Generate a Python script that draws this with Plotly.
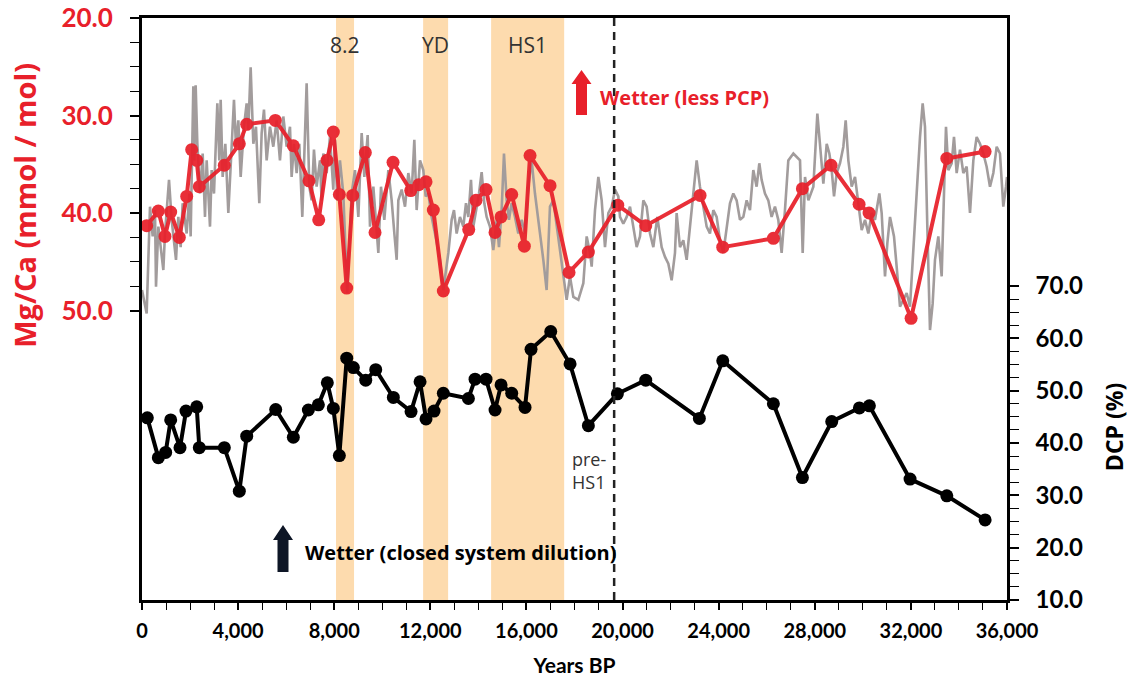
import plotly.graph_objects as go

# ---- Mg/Ca low-resolution record (red) ----
mg_years = [195, 680, 957, 1194, 1553, 1860, 2068, 2277, 2385, 3426, 4050, 4358, 5549,
            6298, 6951, 7355, 7700, 7963, 8213, 8520, 8770, 9295, 9698, 10447, 11184,
            11517, 11821, 12125, 12541, 13598, 13902, 14318, 14693, 14943, 15387, 15912,
            16150, 16982, 17773, 18577, 19800, 20965, 23226, 24170, 26277, 27485, 28678,
            29844, 30260, 32008, 33495, 35089]
mg_ca = [41.3, 39.8, 42.4, 39.9, 42.5, 38.3, 33.5, 34.6, 37.3, 35.1, 32.9, 30.9, 30.5,
         33.1, 36.7, 40.7, 34.6, 31.7, 38.1, 47.7, 38.2, 33.8, 42.0, 34.8, 37.7,
         37.1, 36.8, 39.7, 48.0, 41.7, 38.7, 37.6, 42.0, 40.4, 38.1, 43.4,
         34.1, 37.2, 46.1, 44.0, 39.2, 41.3, 38.2, 43.5, 42.6, 37.5, 35.1,
         39.1, 40.0, 50.8, 34.4, 33.7]

# ---- Mg/Ca high-resolution record (grey) ----
hr_years = [0, 194, 333, 444, 541, 583, 680, 777, 888, 957, 1027, 1124, 1235, 1415, 1512,
            1609, 1692, 1859, 1970, 2025, 2136, 2178, 2233, 2303, 2414, 2525, 2622, 2691,
            2830, 2899, 2996, 3135, 3218, 3274, 3357, 3468, 3593, 3731, 3828, 3912, 4009,
            4106, 4244, 4355, 4425, 4522, 4633, 4744, 4882, 4980, 5077, 5188, 5326, 5465,
            5604, 5742, 5881, 6020, 6159, 6228, 6325, 6436, 6547, 6672, 6755, 6852, 6963,
            7060, 7157, 7268, 7407, 7476, 7546, 7684, 7823, 7962, 8031, 8128, 8239, 8378,
            8544, 8725, 8863, 9004, 9142, 9253, 9392, 9489, 9628, 9725, 9836, 9947, 10086,
            10252, 10391, 10502, 10599, 10668, 10807, 10946, 11084, 11223, 11334, 11431,
            11570, 11708, 11805, 11916, 12055, 12194, 12402, 12541, 12749, 12887, 12984,
            13095, 13234, 13373, 13484, 13581, 13692, 13789, 13928, 14025, 14136, 14247,
            14344, 14482, 14621, 14760, 14857, 14968, 15065, 15176, 15273, 15384, 15523,
            15661, 15800, 15939, 16078, 16216, 16355, 16466, 16563, 16702, 16840, 16979,
            17118, 17257, 17396, 17534, 17673, 17812, 17952, 18160, 18368, 18507, 18645,
            18715, 18853, 18992, 19131, 19269, 19408, 19547, 19685, 19824, 19894, 20032,
            20171, 20310, 20448, 20587, 20726, 20865, 21003, 21142, 21281, 21447, 21627,
            21766, 21905, 22043, 22182, 22251, 22390, 22529, 22668, 22806, 22973, 23084,
            23222, 23361, 23500, 23638, 23777, 23916, 24055, 24193, 24332, 24471, 24609,
            24748, 24887, 25026, 25164, 25303, 25442, 25580, 25691, 25788, 25927, 26066,
            26204, 26343, 26482, 26621, 26759, 26898, 27109, 27247, 27386, 27497, 27594,
            27733, 27830, 27941, 28107, 28218, 28357, 28496, 28607, 28704, 28801, 28912,
            29051, 29189, 29286, 29397, 29536, 29675, 29813, 29952, 30091, 30229, 30368,
            30507, 30687, 30784, 30923, 31020, 31131, 31297, 31408, 31547, 31686, 31825,
            31963, 32102, 32241, 32379, 32490, 32587, 32684, 32795, 32906, 33003, 33142,
            33281, 33378, 33461, 33558, 33697, 33794, 33905, 34044, 34182, 34321, 34460,
            34599, 34737, 34876, 35015, 35153, 35292, 35431, 35570, 35708, 35847, 35958,
            36000]
hr_mg_ca = [47.9, 50.3, 39.35, 42.4, 39.7, 47.56, 41.4, 43.5, 45.85, 42.1, 39.7, 36.6, 40.7,
            44.8, 40.4, 43.5, 39.0, 42.1, 38.0, 42.4, 27.0, 34.6, 26.9, 32.9, 38.0, 33.9,
            40.4, 34.6, 41.4, 35.6, 38.0, 28.75, 34.6, 28.4, 36.3, 32.9, 40.0, 32.5, 28.4,
            33.2, 30.5, 36.3, 31.15, 28.75, 31.5, 25.06, 32.9, 31.15, 39.0, 31.8, 29.4,
            34.6, 31.15, 33.2, 30.5, 34.6, 30.1, 33.2, 31.15, 36.3, 32.9, 35.9, 32.9, 40.4,
            33.9, 26.7, 37.3, 38.7, 33.5, 37.3, 34.6, 38.7, 33.9, 35.9, 32.2, 37.6, 32.5,
            38.7, 34.6, 38.0, 48.2, 38.0, 35.6, 40.4, 31.8, 36.3, 32.0, 41.4, 37.3, 40.7,
            44.1, 37.3, 40.7, 35.6, 38.7, 42.1, 44.8, 38.7, 37.6, 39.35, 35.9, 38.0, 32.5,
            39.7, 34.6, 35.6, 38.3, 38.0, 40.4, 42.1, 44.8, 47.9, 44.1, 40.7, 39.7, 42.1,
            40.4, 41.4, 39.0, 40.4, 36.6, 41.4, 39.35, 38.0, 35.8, 39.0, 40.4, 41.4, 43.8,
            40.7, 43.5, 39.7, 33.9, 38.7, 40.7, 39.0, 40.4, 42.1, 40.7, 42.1, 37.3, 34.6,
            38.0, 40.0, 42.1, 44.8, 47.9, 39.35, 38.7, 41.4, 43.5, 46.2, 48.9, 46.5, 48.6,
            48.9, 47.2, 42.4, 44.1, 45.5, 39.7, 36.3, 38.7, 43.5, 40.0, 39.35, 37.6, 38.3,
            40.4, 41.1, 40.4, 39.35, 41.4, 43.5, 42.4, 38.7, 39.35, 42.1, 43.5, 40.4, 43.5,
            44.5, 45.2, 46.9, 44.1, 40.0, 43.5, 42.8, 44.8, 41.4, 37.3, 34.6, 37.3, 39.35,
            41.4, 42.1, 39.7, 40.4, 42.8, 44.1, 41.4, 39.0, 38.0, 38.7, 40.7, 40.4, 38.7,
            39.7, 35.6, 37.3, 34.9, 36.6, 38.0, 38.7, 40.4, 39.35, 40.7, 44.1, 39.7, 34.6,
            33.9, 34.2, 34.6, 44.1, 36.3, 38.7, 38.0, 37.3, 29.8, 32.9, 37.0, 32.9, 33.9,
            35.6, 38.3, 35.9, 34.9, 33.2, 30.5, 34.6, 37.3, 36.3, 39.0, 41.75, 40.7, 42.1,
            40.0, 40.7, 38.0, 40.0, 46.5, 43.1, 40.4, 42.4, 45.5, 49.6, 48.9, 48.2, 49.6,
            43.5, 37.3, 32.2, 28.75, 31.15, 41.4, 52.0, 49.3, 44.8, 42.4, 46.5, 38.0, 31.15,
            35.6, 34.9, 32.2, 35.9, 33.5, 35.9, 35.25, 40.0, 34.6, 32.2, 32.9, 33.9, 35.25,
            37.3, 35.9, 33.2, 33.9, 39.35, 37.3, 36.3]

# ---- Dead carbon proportion (black) ----
dcp_years = [221, 680, 985, 1194, 1582, 1831, 2277, 2385, 3426, 4050, 4358, 5565, 6298,
             6924, 7340, 7713, 7963, 8213, 8520, 8797, 9311, 9727, 10461, 11198, 11572,
             11821, 12154, 12541, 13584, 13862, 14318, 14693, 14943, 15387, 15941, 16191,
             17011, 17815, 18577, 19784, 20965, 23197, 24170, 26277, 27485, 28706, 29857,
             30273, 31965, 33495, 35089]
dcp = [44.8, 37.2, 38.2, 44.4, 39.1, 46.1, 46.9, 39.1, 39.1, 30.8, 41.3, 46.4, 41.1,
       46.3, 47.3, 51.5, 46.6, 37.6, 56.2, 54.4, 52.0, 54.0, 48.7, 46.0, 51.7,
       44.6, 46.1, 49.5, 48.5, 52.2, 52.2, 46.3, 51.1, 49.5, 46.8, 57.9,
       61.3, 55.1, 43.3, 49.4, 52.0, 44.7, 55.7, 47.5, 33.4, 44.1, 46.7,
       47.1, 33.1, 29.9, 25.3]

# ---- Climate events (start, end, label) ----
event_names = ["8.2", "YD", "HS1"]
event_start = [8075, 11700, 14530]
event_end = [8825, 12740, 17570]
pre_hs1_boundary = 19650

x_tickvals = list(range(0, 36001, 4000))
mg_tickvals = [20, 30, 40, 50]
dcp_tickvals = [10, 20, 30, 40, 50, 60, 70]

RED = "#E8202A"
GREY = "#A29C9C"
BAND = "#FDDBAE"
FONT = "Lato"
TFONT = "Open Sans"

fig = go.Figure()

fig.add_trace(go.Scatter(x=hr_years, y=hr_mg_ca, mode="lines",
                         line=dict(color=GREY, width=2.6), yaxis="y", showlegend=False))
fig.add_trace(go.Scatter(x=mg_years, y=mg_ca, mode="lines+markers",
                         line=dict(color=RED, width=4), marker=dict(color=RED, size=13),
                         opacity=0.93, yaxis="y", showlegend=False))
fig.add_trace(go.Scatter(x=dcp_years, y=dcp, mode="lines+markers",
                         line=dict(color="black", width=4), marker=dict(color="black", size=13),
                         yaxis="y2", showlegend=False))

# shaded event bands and their labels
for name, x0, x1 in zip(event_names, event_start, event_end):
    fig.add_shape(type="rect", xref="x", yref="paper", x0=x0, x1=x1, y0=0, y1=1,
                  fillcolor=BAND, line_width=0, layer="below")
    fig.add_annotation(x=(x0 + x1) / 2, y=0.954, xref="x", yref="paper", text=name,
                       xanchor="center", yanchor="middle", showarrow=False,
                       font=dict(family=TFONT, size=21, color="#333333"))

# pre-HS1 boundary
fig.add_shape(type="line", xref="x", yref="paper", x0=pre_hs1_boundary, x1=pre_hs1_boundary,
              y0=0, y1=1, line=dict(color="#222222", width=2.5, dash="8px,6px"))
fig.add_annotation(x=pre_hs1_boundary, y=0.223, xref="x", yref="paper", xanchor="right",
                   yanchor="middle", xshift=-6, text="pre-<br>HS1", showarrow=False,
                   align="left", font=dict(family=TFONT, size=18, color="#333333"))


def arrow_path(xc, y_bottom, y_head, y_tip):
    # up arrow outline, given in pixels of the plotting area, returned in paper fractions
    W, H = 865.0, 582.0
    sx, hx = 5.5 / W, 10.0 / W
    yb, yh, yt = (600 - y_bottom) / H, (600 - y_head) / H, (600 - y_tip) / H
    xc = (xc - 142) / W
    return (f"M {xc - sx} {yb} L {xc - sx} {yh} L {xc - hx} {yh} L {xc} {yt} "
            f"L {xc + hx} {yh} L {xc + sx} {yh} L {xc + sx} {yb} Z")


fig.add_shape(type="path", xref="paper", yref="paper", path=arrow_path(581.5, 115, 84, 70),
              fillcolor=RED, line_width=0)
fig.add_annotation(x=0.527, y=0.864, xref="paper", yref="paper", xanchor="left",
                   yanchor="middle", text="Wetter (less PCP)", showarrow=False,
                   font=dict(family=TFONT, size=20, color=RED, weight="bold"))

fig.add_shape(type="path", xref="paper", yref="paper", path=arrow_path(283, 572, 540, 525),
              fillcolor="#0E1626", line_width=0)
fig.add_annotation(x=0.186, y=0.081, xref="paper", yref="paper", xanchor="left",
                   yanchor="middle", text="Wetter (closed system dilution)", showarrow=False,
                   font=dict(family=TFONT, size=20, color="black", weight="bold"))

# axis titles
fig.add_annotation(x=-0.1353, y=0.679, xref="paper", yref="paper", text="Mg/Ca (mmol / mol)",
                   xanchor="center", yanchor="middle", textangle=-90, showarrow=False,
                   font=dict(family=TFONT, size=29, color=RED, weight="bold"))
fig.add_annotation(x=1.1237, y=0.297, xref="paper", yref="paper", text="DCP (%)",
                   xanchor="center", yanchor="middle", textangle=-90, showarrow=False,
                   font=dict(family=TFONT, size=23, color="black", weight="bold"))

fig.update_layout(
    width=1136, height=685,
    margin=dict(l=142, r=129, t=18, b=85),
    plot_bgcolor="white", paper_bgcolor="white",
    xaxis=dict(range=[0, 36000], tickvals=x_tickvals, tickformat=",d", automargin=False,
               ticks="outside", ticklen=7, tickwidth=1.5, tickcolor="black",
               showline=True, linecolor="black", linewidth=2.5, mirror=True,
               showgrid=False, zeroline=False, ticklabelstandoff=4,
               minor=dict(dtick=1000, tick0=0, ticks="outside", ticklen=7,
                          tickwidth=1.2, tickcolor="black"),
               tickfont=dict(family=FONT, size=20, color="black", weight="bold"),
               title=dict(text="Years BP", standoff=18,
                          font=dict(family=FONT, size=21, color="black", weight="bold"))),
    yaxis=dict(range=[79.69, 20], tickvals=mg_tickvals, tickformat=".1f", automargin=False,
               ticks="outside", ticklen=9, tickwidth=1.5, tickcolor="black",
               showline=True, linecolor="black", linewidth=3,
               showgrid=False, zeroline=False, ticklabelstandoff=12,
               minor=dict(tickvals=[22.5, 25, 27.5, 32.5, 35, 37.5, 42.5, 45, 47.5],
                          ticks="outside", ticklen=9, tickwidth=1.2, tickcolor="black"),
               tickfont=dict(family=FONT, size=26, color=RED, weight="bold")),
    yaxis2=dict(range=[10, 121.2], overlaying="y", side="right", anchor="x", automargin=False,
                tickvals=dcp_tickvals, tickformat=".1f",
                ticks="outside", ticklen=9, tickwidth=1.5, tickcolor="black",
                showline=True, linecolor="black", linewidth=2.5,
                showgrid=False, zeroline=False, ticklabelstandoff=12,
                minor=dict(tickvals=[12.5, 15, 17.5, 22.5, 25, 27.5, 32.5, 35, 37.5,
                                     42.5, 45, 47.5, 52.5, 55, 57.5, 62.5, 65, 67.5],
                           ticks="outside", ticklen=9, tickwidth=1.2, tickcolor="black"),
                tickfont=dict(family=FONT, size=24, color="black", weight="bold")),
)

fig.write_html("out.html")
